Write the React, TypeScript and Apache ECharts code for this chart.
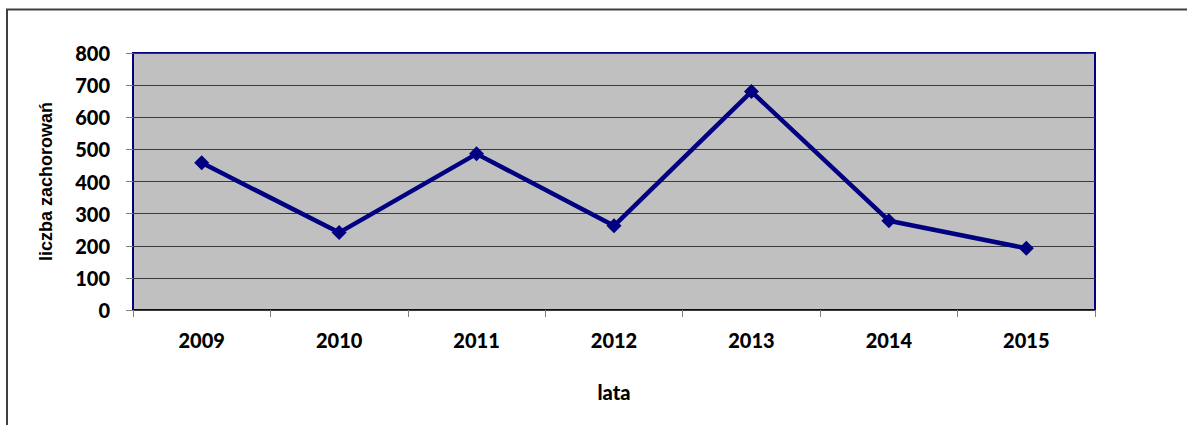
import React, { useEffect, useRef } from "react";
import * as echarts from "echarts";

const years = ["2009", "2010", "2011", "2012", "2013", "2014", "2015"];
const cases = [458, 241, 486, 262, 680, 278, 192];
const yMin = 0;
const yMax = 800;
const yStep = 100;
const xTitle = "lata";
const yTitle = "liczba zachorowań";

export default function App() {
  const ref = useRef<HTMLDivElement>(null);
  useEffect(() => {
    if (!ref.current) return;
    const chart = echarts.init(ref.current, null, { renderer: "svg" });
    const labelFont = { fontFamily: "Lato", fontWeight: 900 as const, fontSize: 20, color: "#000" };
    chart.setOption({
      animation: false,
      backgroundColor: "#ffffff",
      graphic: [
        {
          type: "rect",
          shape: { x: 7, y: 9.5, width: 1300, height: 500 },
          style: { fill: "none", stroke: "#404040", lineWidth: 2 },
          silent: true,
          z: 100,
        },
      ],
      grid: {
        left: 133,
        right: 92,
        top: 53,
        bottom: 115,
        show: true,
        backgroundColor: "#C0C0C0",
        borderColor: "#000080",
        borderWidth: 2,
      },
      xAxis: {
        type: "category",
        data: years,
        boundaryGap: true,
        name: xTitle,
        nameLocation: "middle",
        nameGap: 82,
        nameTextStyle: { ...labelFont, verticalAlign: "middle" },
        axisLine: { show: false },
        axisTick: { show: true, length: 7, lineStyle: { color: "#808080", width: 1 } },
        axisLabel: { ...labelFont, margin: 20 },
        splitLine: { show: false },
      },
      yAxis: {
        type: "value",
        min: yMin,
        max: yMax,
        interval: yStep,
        name: yTitle,
        nameLocation: "middle",
        nameGap: 87,
        nameTextStyle: {
          fontFamily: "Liberation Sans",
          fontWeight: "bold",
          fontSize: 18,
          color: "#000",
          verticalAlign: "middle",
        },
        axisLine: { show: false },
        axisTick: { show: true, length: 7, lineStyle: { color: "#808080", width: 1 } },
        axisLabel: { ...labelFont, margin: 23 },
        splitLine: { show: true, lineStyle: { color: "#3a3a3a", width: 1 } },
      },
      series: [
        {
          type: "line",
          data: cases,
          symbol: "diamond",
          symbolSize: 15,
          lineStyle: { color: "#000080", width: 4.5 },
          itemStyle: { color: "#000080" },
          z: 5,
        },
      ],
    });
    return () => chart.dispose();
  }, []);
  return (
    <div
      ref={ref}
      style={{ position: "fixed", left: 0, top: 0, width: 1187, height: 425 }}
    />
  );
}
